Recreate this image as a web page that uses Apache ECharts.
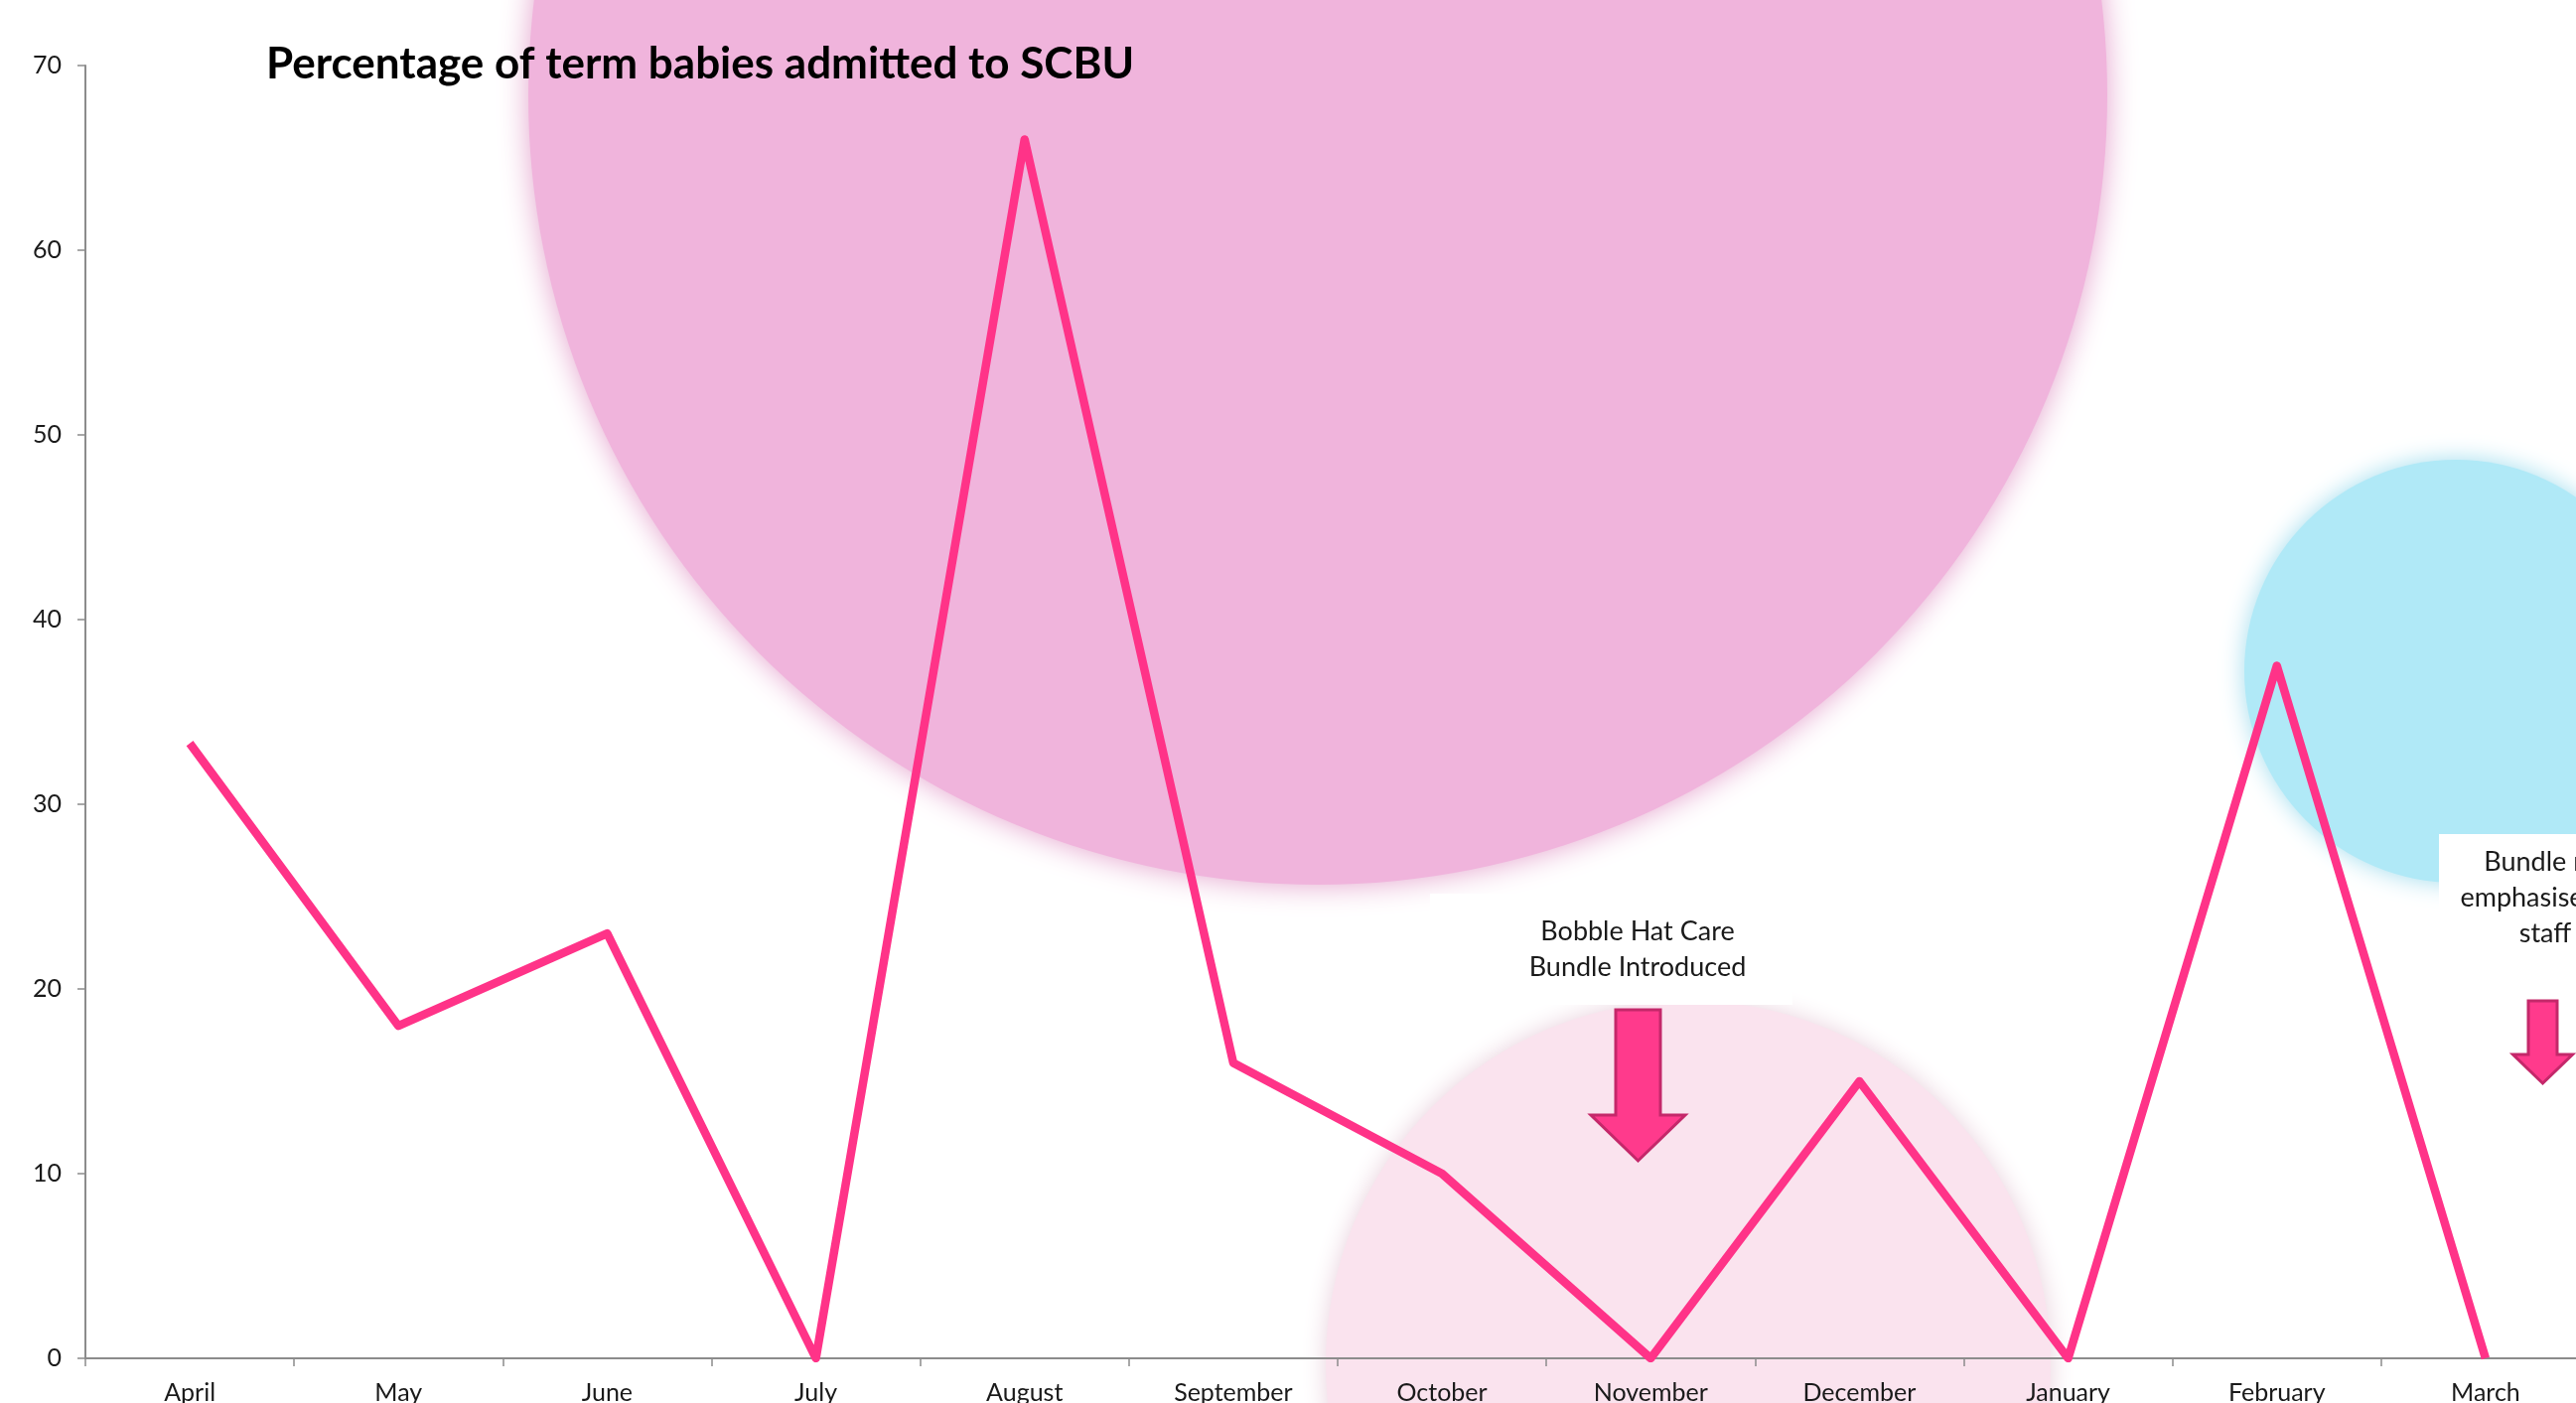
<!DOCTYPE html>
<html>
<head>
<meta charset="utf-8">
<title>Percentage of term babies admitted to SCBU</title>
<script src="https://cdn.jsdelivr.net/npm/echarts@6/dist/echarts.min.js"></script>
<style>
  html, body { margin: 0; padding: 0; background: #fff; }
  #chart { width: 2594px; height: 1413px; }
</style>
</head>
<body>
<div id="chart"></div>
<script>
// months of the year (April to March)
var months = ["April", "May", "June", "July", "August", "September",
  "October", "November", "December", "January", "February", "March"];
// % of term babies admitted to SCBU
var admitted = [33.3, 18, 23, 0, 66, 16, 10, 0, 15, 0, 37.5, 0];
var yTicks = [0, 10, 20, 30, 40, 50, 60, 70];

var font = "Lato";
var chart = echarts.init(document.getElementById("chart"));

// white box with centred lines of text (annotations)
function noteBox(x, y, w, h, cx, ty, text) {
  return {
    type: "group",
    z: -5,
    children: [
      { type: "rect", shape: { x: x, y: y, width: w, height: h }, style: { fill: "#fff" } },
      {
        type: "text",
        x: cx,
        y: ty,
        style: {
          text: text,
          fill: "#1a1a1a",
          font: "27px " + font,
          lineHeight: 36,
          align: "center",
          verticalAlign: "top"
        }
      }
    ]
  };
}

function arrow(cx, top, shaftHalf, headHalf, headY, tipY) {
  return {
    type: "polygon",
    z: 10,
    shape: {
      points: [
        [cx - shaftHalf, top], [cx + shaftHalf, top], [cx + shaftHalf, headY],
        [cx + headHalf, headY], [cx, tipY], [cx - headHalf, headY], [cx - shaftHalf, headY]
      ]
    },
    style: { fill: "#FF3A8C", stroke: "#C4286A", lineWidth: 3 }
  };
}

chart.setOption({
  animation: false,
  backgroundColor: "#fff",
  title: {
    text: "Percentage of term babies admitted to SCBU",
    left: 263,
    top: 38,
    textStyle: { fontFamily: font, fontWeight: "bold", fontSize: 44, color: "#000" }
  },
  grid: { left: 86, top: 66, width: 2522, height: 1302, outerBoundsMode: "none", containLabel: false },
  graphic: [
    // background bubbles
    { type: "circle", z: -20, shape: { cx: 1327, cy: 96, r: 795 },
      style: { fill: "#F0B4DC", shadowBlur: 30, shadowColor: "#E4A2CC" } },
    { type: "circle", z: -20, shape: { cx: 1700, cy: 1373, r: 365 },
      style: { fill: "#FAE3EE", shadowBlur: 24, shadowColor: "#E8D0DC" } },
    { type: "circle", z: -20, shape: { cx: 2473, cy: 676, r: 213 },
      style: { fill: "#B0E9F7", shadowBlur: 24, shadowColor: "#A2DDEE" } },
    noteBox(1440, 900, 365, 112, 1649, 920, "Bobble Hat Care\nBundle Introduced"),
    noteBox(2456, 840, 150, 118, 2563, 850, "Bundle re-\nemphasised to\nstaff"),
    arrow(1649.5, 1017, 22.5, 47.5, 1123, 1169),
    arrow(2560.5, 1008, 14.5, 30, 1062, 1091)
  ],
  xAxis: {
    type: "category",
    data: months,
    boundaryGap: true,
    axisLine: { lineStyle: { color: "#8c8c8c", width: 2 } },
    axisTick: { show: true, interval: 0, length: 8, lineStyle: { color: "#8c8c8c", width: 1.5 } },
    axisLabel: { interval: 0, margin: 22, fontFamily: font, fontSize: 25, color: "#1a1a1a" },
    splitLine: { show: false }
  },
  yAxis: {
    type: "value",
    min: yTicks[0],
    max: yTicks[yTicks.length - 1],
    interval: yTicks[1] - yTicks[0],
    axisLine: { show: true, lineStyle: { color: "#8c8c8c", width: 2 } },
    axisTick: { show: true, length: 8, lineStyle: { color: "#8c8c8c", width: 1.5 } },
    axisLabel: { margin: 24, fontFamily: font, fontSize: 25, color: "#1a1a1a" },
    splitLine: { show: false }
  },
  series: [
    {
      name: "Admitted",
      type: "line",
      data: admitted,
      symbol: "none",
      lineStyle: { color: "#FF3388", width: 8.5, join: "round" },
      z: 5
    }
  ]
});
</script>
</body>
</html>
